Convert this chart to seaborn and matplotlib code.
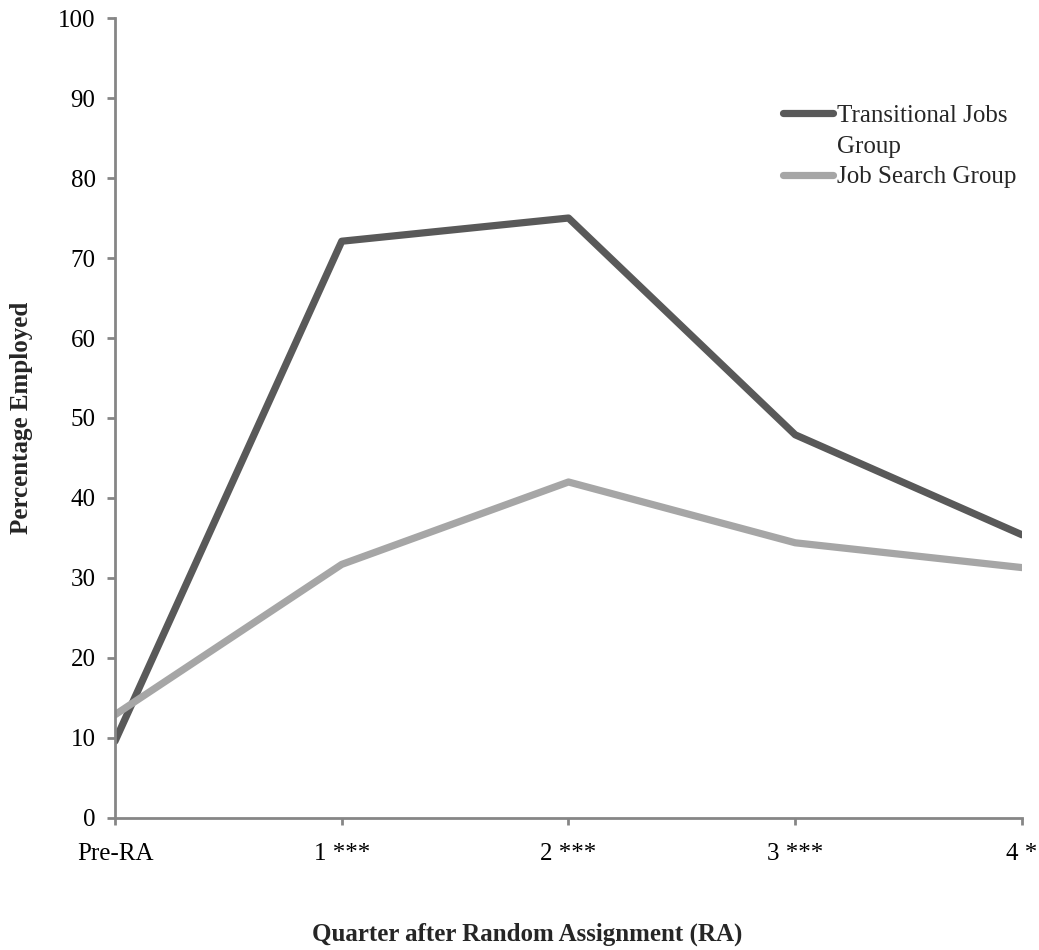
import matplotlib.pyplot as plt
import pandas as pd
import seaborn as sns
from matplotlib.lines import Line2D

quarters = ["Pre-RA", "1 ***", "2 ***", "3 ***", "4 *"]
transitional = [9.6, 72.1, 75.0, 47.9, 35.4]
job_search = [12.9, 31.7, 42.0, 34.4, 31.3]

df = pd.DataFrame(
    {
        "quarter": quarters * 2,
        "pct": transitional + job_search,
        "group": ["Transitional Jobs Group"] * 5 + ["Job Search Group"] * 5,
    }
)

sns.set_theme(style="white")
plt.rcParams["font.family"] = ["Liberation Serif", "DejaVu Serif"]

fig = plt.figure(figsize=(10.39, 9.5), dpi=100)
ax = fig.add_axes([0.1107, 0.139, 0.8729, 0.842])

dark, light = "#595959", "#a6a6a6"
palette = {"Transitional Jobs Group": dark, "Job Search Group": light}
sns.lineplot(
    data=df,
    x="quarter",
    y="pct",
    hue="group",
    palette=palette,
    linewidth=5.2,
    sort=False,
    legend=False,
    ax=ax,
)

axis_color = "#868686"
ax.set_xlim(0, 4)
ax.set_ylim(0, 100)
ax.set_yticks(range(0, 101, 10))
for side in ["top", "right"]:
    ax.spines[side].set_visible(False)
for side in ["left", "bottom"]:
    ax.spines[side].set_color(axis_color)
    ax.spines[side].set_linewidth(2)
ax.tick_params(
    axis="both",
    direction="out",
    width=2,
    color=axis_color,
    labelsize=18,
    labelcolor="black",
    left=True,
    bottom=True,
)
ax.tick_params(axis="x", length=5, pad=13)
ax.tick_params(axis="y", length=6, pad=8)

ax.set_xlabel("")
ax.set_ylabel("Percentage Employed", fontsize=18, fontweight="bold", labelpad=18)
fig.text(
    0.507,
    1 - 934 / 950,
    "Quarter after Random Assignment (RA)",
    fontsize=18,
    fontweight="bold",
    ha="center",
    va="center",
)

# legend: the handle sits beside the first line of the wrapped label
handles = [
    Line2D([], [], color=dark, lw=5.2, solid_capstyle="round"),
    Line2D([], [], color="none", lw=0),
    Line2D([], [], color=light, lw=5.2, solid_capstyle="round"),
]
labels = ["Transitional Jobs", "Group", "Job Search Group"]
fig.legend(
    handles,
    labels,
    loc="upper left",
    bbox_to_anchor=(783 / 1039, 1 - 104 / 950),
    frameon=False,
    fontsize=18,
    handlelength=2.0,
    handletextpad=0.15,
    labelspacing=0.34,
    borderpad=0,
    borderaxespad=0,
)

fig.savefig("out.png", dpi=100)
